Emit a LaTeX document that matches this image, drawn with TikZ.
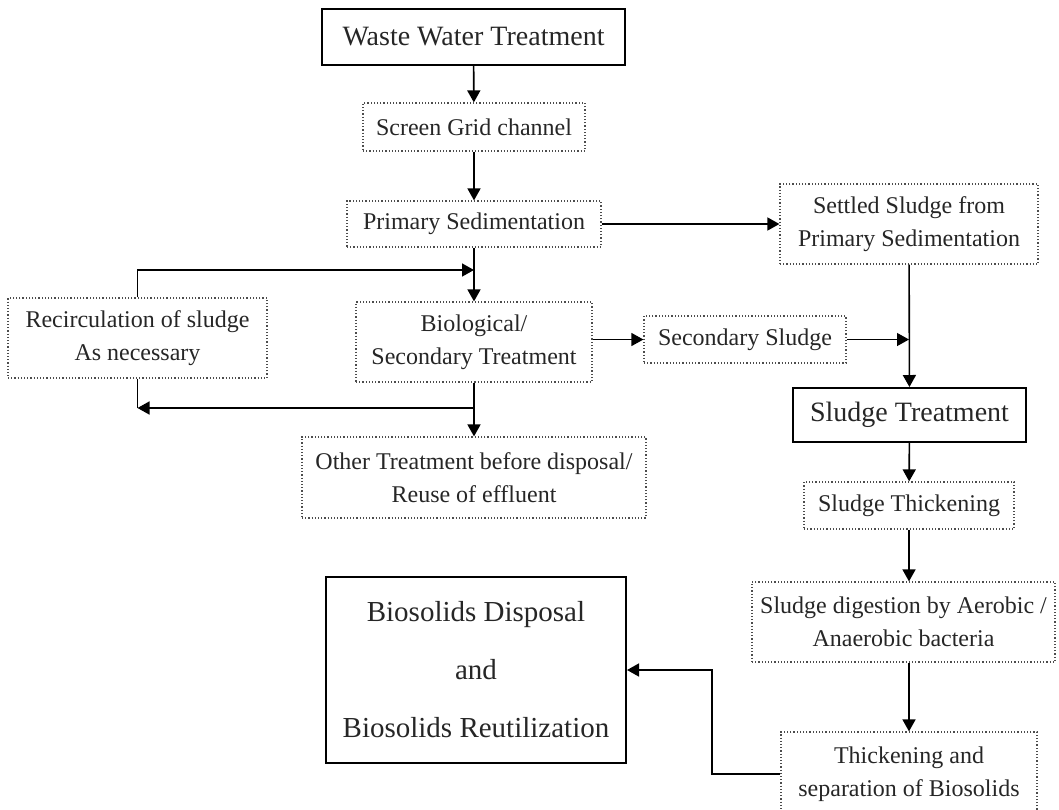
\documentclass[tikz,border=0pt]{standalone}
\usepackage{fontspec}
\setmainfont{Liberation Serif}
\usetikzlibrary{arrows.meta}
\tikzset{
  dotbox/.style={draw=black!70, densely dotted, line width=0.6pt, inner sep=0pt, align=center, text=black!85,
    font=\fontsize{12}{16.5}\selectfont},
  mainbox/.style={draw=black, line width=1pt, inner sep=0pt, align=center, text=black!85,
    font=\fontsize{14}{17}\selectfont},
  arr/.style={line width=0.8pt, -{Triangle[length=6pt,width=6.5pt]}},
  ln/.style={line width=0.8pt}
}
\begin{document}
\begin{tikzpicture}[x=0.5pt,y=-0.5pt]
  \useasboundingbox (0,0) rectangle (1059,809);
  \clip (0,0) rectangle (1059,809);
  \node[mainbox, minimum width=151.5pt, minimum height=28pt] (wwt) at (473.5,37) {Waste Water Treatment};
  \node[dotbox, minimum width=111pt, minimum height=24pt] (screen) at (474,127) {Screen Grid channel};
  \node[dotbox, minimum width=127pt, minimum height=23pt] (primsed) at (474,224) {Primary Sedimentation};
  \node[dotbox, minimum width=129pt, minimum height=40pt] (settled) at (909,224) {Settled Sludge from\\Primary Sedimentation};
  \node[dotbox, minimum width=129.5pt, minimum height=40pt] (recirc) at (137.5,338) {Recirculation of sludge\\As necessary};
  \node[dotbox, minimum width=118pt, minimum height=40pt] (bio) at (474,342) {Biological/\\Secondary Treatment};
  \node[dotbox, minimum width=101pt, minimum height=23.5pt] (secsl) at (745,339.5) {Secondary Sludge};
  \node[mainbox, minimum width=116.5pt, minimum height=27pt] (sludgetr) at (909.5,415) {Sludge Treatment};
  \node[dotbox, minimum width=172pt, minimum height=40.5pt] (other) at (474,477.5) {Other Treatment before disposal/\\Reuse of effluent};
  \node[dotbox, minimum width=105pt, minimum height=23.5pt] (thick) at (909,505.5) {Sludge Thickening};
  \node[dotbox, minimum width=151.5pt, minimum height=40pt] (digest) at (903.5,622) {Sludge digestion by Aerobic /\\Anaerobic bacteria};
  \node[dotbox, minimum width=128pt, minimum height=42pt] (thicksep) at (909,774) {Thickening and\\separation of Biosolids};
  \node[mainbox, minimum width=150pt, minimum height=93pt, font=\fontsize{14.5}{29}\selectfont] (biosol) at (476,670)
    {Biosolids Disposal\\and\\Biosolids Reutilization};
  \coordinate (jtop) at (474,270);
  \coordinate (jbot) at (474,408);
  \coordinate (bend) at (712,774);
  \draw[arr] (wwt) -- (screen);
  \draw[arr] (screen) -- (primsed);
  \draw[arr] (primsed.east) -- (settled.west);
  \draw[arr] (primsed) -- (bio);
  \draw[arr] (recirc.north) |- (jtop);
  \draw[arr] (bio) -- (other);
  \draw[arr] (jbot) -- (jbot -| recirc.south);
  \draw[ln] (recirc.south) -- (jbot -| recirc.south);
  \draw[arr, line width=0.6pt] (bio.east |- secsl.west) -- (secsl.west);
  \draw[arr, line width=0.6pt] (secsl.east) -- (secsl.east -| settled.south);
  \draw[arr] (settled) -- (sludgetr);
  \draw[arr] (sludgetr) -- (thick);
  \draw[arr] (thick.south) -- (thick.south |- digest.north);
  \draw[arr] (digest.south -| thicksep.north) -- (thicksep.north);
  \draw[arr] (thicksep.west) -- (bend) |- (biosol.east);
\end{tikzpicture}
\end{document}
